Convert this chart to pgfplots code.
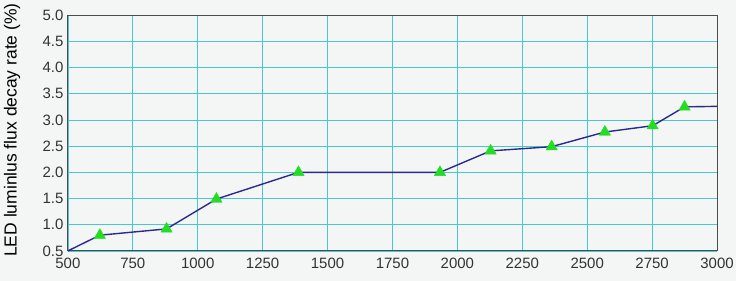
\documentclass[border=0pt]{standalone}
\usepackage{pgfplots}
\pgfplotsset{compat=1.18}
\usepackage{fontspec}
\setmainfont{Liberation Sans}
\usetikzlibrary{backgrounds}
\definecolor{bg}{HTML}{F4F5F5}
\definecolor{gridc}{HTML}{48C8CC}
\definecolor{linec}{HTML}{2A2A8C}
\definecolor{markc}{HTML}{22DD22}
\begin{document}
\begin{tikzpicture}
\begin{axis}[
  scale only axis,
  width=650bp, height=236bp,
  xmin=500, xmax=3000, ymin=0.5, ymax=5.0,
  xtick={500,750,...,3000},
  ytick={0.5,1.0,...,5.0},
  yticklabel style={xshift=-1bp},
  y tick label style={/pgf/number format/fixed, /pgf/number format/fixed zerofill, /pgf/number format/precision=1},
  /pgf/number format/assume math mode=true,
  /pgf/number format/1000 sep={},
  grid=major,
  major grid style={gridc, line width=0.8pt},
  axis line style={black!70, line width=1pt},
  tick style={draw=none},
  ticklabel style={font=\fontsize{15bp}{17bp}\selectfont, text=black!80},
  xticklabel style={yshift=-4bp},
  ylabel={LED luminlus flux decay rate (\%)},
  every axis y label/.style={at={(axis description cs:0,0.5)}, rotate=90, anchor=center, yshift=56bp, xshift=3bp,
    font=\fontsize{17.5bp}{19bp}\selectfont, text=black},
  axis background/.style={fill=bg},
  clip=false,
]
\addplot[linec, line width=1.4pt, mark=none] coordinates {
  (500,0.5) (623,0.80) (880,0.92) (1072,1.49) (1388,2.0) (1933,2.0)
  (2128,2.41) (2363,2.49) (2568,2.77) (2752,2.89) (2875,3.25) (3000,3.26)
};
\addplot[only marks, mark=triangle*, mark size=6.5bp, markc] coordinates {
  (623,0.80) (880,0.92) (1072,1.49) (1388,2.0) (1933,2.0)
  (2128,2.41) (2363,2.49) (2568,2.77) (2752,2.89) (2875,3.25)
};
\end{axis}
\useasboundingbox ([shift={(-68bp,-30bp)}]current axis.south west) rectangle ([shift={(19bp,15bp)}]current axis.north east);
\begin{scope}[on background layer]
\fill[bg] ([shift={(-68bp,-30bp)}]current axis.south west) rectangle ([shift={(19bp,15bp)}]current axis.north east);
\end{scope}
\end{tikzpicture}
\end{document}
